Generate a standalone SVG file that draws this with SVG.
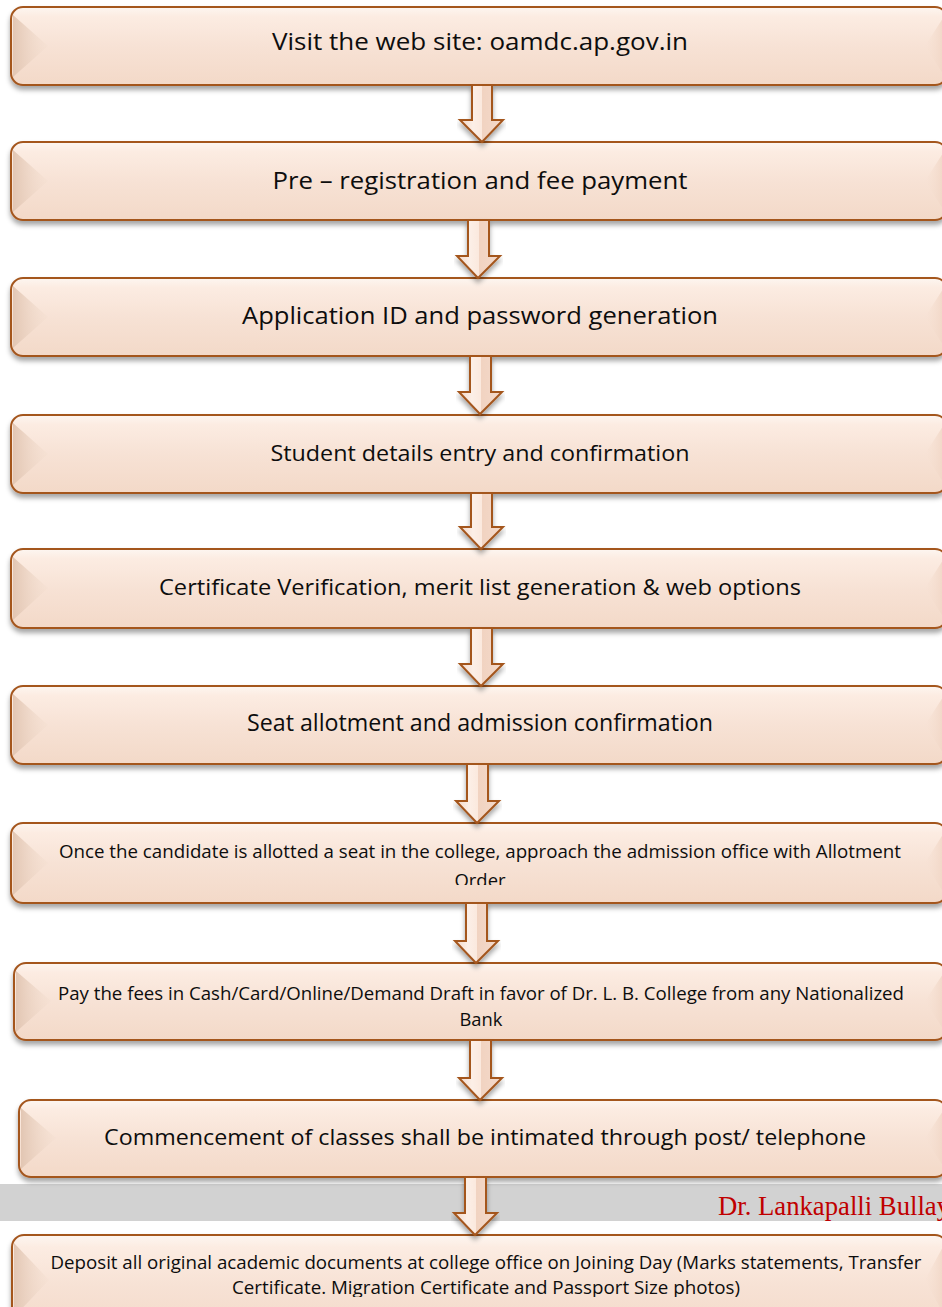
<svg xmlns="http://www.w3.org/2000/svg" width="942" height="1307" viewBox="0 0 942 1307">
  <defs>
    <linearGradient id="boxFill" x1="0" y1="0" x2="0" y2="1">
      <stop offset="0" stop-color="#fdf6f1"/>
      <stop offset="0.12" stop-color="#fcece2"/>
      <stop offset="0.5" stop-color="#f7e2d5"/>
      <stop offset="1" stop-color="#f3d9c8"/>
    </linearGradient>
    <linearGradient id="bevelL" x1="0" y1="0" x2="1" y2="0">
      <stop offset="0" stop-color="#e2c6b3"/>
      <stop offset="1" stop-color="#f1dccd" stop-opacity="0.2"/>
    </linearGradient>
    <linearGradient id="bevelR" x1="1" y1="0" x2="0" y2="0">
      <stop offset="0" stop-color="#f0d5c4"/>
      <stop offset="1" stop-color="#f7e2d5" stop-opacity="0.2"/>
    </linearGradient>
    <linearGradient id="arrowFill" x1="0" y1="0" x2="1" y2="0">
      <stop offset="0" stop-color="#f2d7c7"/>
      <stop offset="0.3" stop-color="#fcefe7"/>
      <stop offset="0.5" stop-color="#fbe9de"/>
      <stop offset="0.52" stop-color="#f1d3c1"/>
      <stop offset="1" stop-color="#f4dacb"/>
    </linearGradient>
    <filter id="shadow" x="-5%" y="-20%" width="110%" height="160%">
      <feDropShadow dx="0" dy="4" stdDeviation="2.5" flood-color="#000" flood-opacity="0.35"/>
    </filter>
    <clipPath id="clip7"><rect x="0" y="823" width="942" height="62"/></clipPath>
    <clipPath id="clip10"><rect x="0" y="1235" width="942" height="62"/></clipPath>
  </defs>
  <style>
    .box { fill: url(#boxFill); stroke: #a4561f; stroke-width: 2; }
    .bl { fill: url(#bevelL); }
    .br { fill: url(#bevelR); }
    .arrow { fill: url(#arrowFill); stroke: #a4561f; stroke-width: 2; stroke-linejoin: miter; filter: url(#shadow); }
    .t { font-family: "Open Sans", "Noto Sans", sans-serif; fill: #0d0d0d; text-anchor: middle; }
    .big { font-size: 23px; }
    .mid { font-size: 21px; }
    .small { font-size: 17.5px; }
    .footer { font-family: "Liberation Serif", "Times New Roman", serif; font-size: 27px; fill: #c00000; }
  </style>

  <!-- footer band -->
  <g id="footer-band">
    <rect x="0" y="1184" width="942" height="37" fill="#d2d2d2"/>
    <text class="footer" x="718" y="1215" textLength="232" lengthAdjust="spacingAndGlyphs">Dr. Lankapalli Bullay</text>
  </g>

  <!-- process steps -->
  <g id="step1" filter="url(#shadow)">
    <rect class="box" x="11" y="7" width="936" height="78" rx="12"/>
    <polygon class="bl" points="13,15 48,46 13,77"/>
    <polygon class="br" points="945,15 925,46 945,77"/>
  </g>
  <text class="t big" x="480" y="50" textLength="416" lengthAdjust="spacingAndGlyphs">Visit the web site: oamdc.ap.gov.in</text>

  <g id="step2" filter="url(#shadow)">
    <rect class="box" x="11" y="142" width="936" height="78" rx="12"/>
    <polygon class="bl" points="13,150 48,181 13,212"/>
    <polygon class="br" points="945,150 925,181 945,212"/>
  </g>
  <text class="t big" x="480" y="189" textLength="415" lengthAdjust="spacingAndGlyphs">Pre – registration and fee payment</text>

  <g id="step3" filter="url(#shadow)">
    <rect class="box" x="11" y="278" width="936" height="78" rx="12"/>
    <polygon class="bl" points="13,286 48,317 13,348"/>
    <polygon class="br" points="945,286 925,317 945,348"/>
  </g>
  <text class="t big" x="480" y="324" textLength="476" lengthAdjust="spacingAndGlyphs">Application ID and password generation</text>

  <g id="step4" filter="url(#shadow)">
    <rect class="box" x="11" y="415" width="936" height="78" rx="12"/>
    <polygon class="bl" points="13,423 48,454 13,485"/>
    <polygon class="br" points="945,423 925,454 945,485"/>
  </g>
  <text class="t mid" x="480" y="461" textLength="419" lengthAdjust="spacingAndGlyphs">Student details entry and confirmation</text>

  <g id="step5" filter="url(#shadow)">
    <rect class="box" x="11" y="549" width="936" height="79" rx="12"/>
    <polygon class="bl" points="13,557 48,588 13,620"/>
    <polygon class="br" points="945,557 925,588 945,620"/>
  </g>
  <text class="t mid" x="480" y="595" textLength="642" lengthAdjust="spacingAndGlyphs">Certificate Verification, merit list generation &amp; web options</text>

  <g id="step6" filter="url(#shadow)">
    <rect class="box" x="11" y="686" width="936" height="78" rx="12"/>
    <polygon class="bl" points="13,694 48,725 13,756"/>
    <polygon class="br" points="945,694 925,725 945,756"/>
  </g>
  <text class="t big" x="480" y="731" textLength="466" lengthAdjust="spacingAndGlyphs">Seat allotment and admission confirmation</text>

  <g id="step7" filter="url(#shadow)">
    <rect class="box" x="11" y="823" width="936" height="80" rx="12"/>
    <polygon class="bl" points="13,831 48,863 13,895"/>
    <polygon class="br" points="945,831 925,863 945,895"/>
  </g>
  <g clip-path="url(#clip7)">
    <text class="t small" x="480" y="858" textLength="842" lengthAdjust="spacingAndGlyphs">Once the candidate is allotted a seat in the college, approach the admission office with Allotment</text>
    <text class="t small" x="480" y="887" textLength="51" lengthAdjust="spacingAndGlyphs">Order</text>
  </g>

  <g id="step8" filter="url(#shadow)">
    <rect class="box" x="14" y="963" width="933" height="77" rx="12"/>
    <polygon class="bl" points="16,971 51,1001 16,1032"/>
    <polygon class="br" points="945,971 925,1001 945,1032"/>
  </g>
  <text class="t small" x="481" y="1000" textLength="846" lengthAdjust="spacingAndGlyphs">Pay the fees in Cash/Card/Online/Demand Draft in favor of Dr. L. B. College from any Nationalized</text>
  <text class="t small" x="481" y="1026" textLength="43" lengthAdjust="spacingAndGlyphs">Bank</text>

  <g id="step9" filter="url(#shadow)">
    <rect class="box" x="19" y="1100" width="928" height="77" rx="12"/>
    <polygon class="bl" points="21,1108 56,1138 21,1169"/>
    <polygon class="br" points="945,1108 925,1138 945,1169"/>
  </g>
  <text class="t mid" x="485" y="1145" textLength="762" lengthAdjust="spacingAndGlyphs">Commencement of classes shall be intimated through post/ telephone</text>

  <g id="step10" filter="url(#shadow)">
    <rect class="box" x="12" y="1235" width="935" height="100" rx="12"/>
    <polygon class="bl" points="14,1243 49,1280 14,1317"/>
    <polygon class="br" points="945,1243 925,1280 945,1317"/>
  </g>
  <g clip-path="url(#clip10)">
    <text class="t small" x="486" y="1269" textLength="871" lengthAdjust="spacingAndGlyphs">Deposit all original academic documents at college office on Joining Day (Marks statements, Transfer</text>
    <text class="t small" x="486" y="1294" textLength="508" lengthAdjust="spacingAndGlyphs">Certificate. Migration Certificate and Passport Size photos)</text>
  </g>

  <!-- block arrows between steps -->
  <g id="connectors">
    <path class="arrow" d="M472,85 H492 V120 H503 L482,142 L460,120 H472 Z"/>
    <path class="arrow" d="M468,220 H489 V256 H500 L478,278 L457,256 H468 Z"/>
    <path class="arrow" d="M470,356 H491 V392 H502 L480,414 L459,392 H470 Z"/>
    <path class="arrow" d="M471,493 H492 V527 H503 L481,549 L460,527 H471 Z"/>
    <path class="arrow" d="M471,628 H492 V664 H503 L481,686 L460,664 H471 Z"/>
    <path class="arrow" d="M467,764 H488 V801 H499 L477,823 L456,801 H467 Z"/>
    <path class="arrow" d="M466,903 H487 V941 H498 L476,963 L455,941 H466 Z"/>
    <path class="arrow" d="M470,1040 H491 V1078 H502 L480,1100 L459,1078 H470 Z"/>
    <path class="arrow" d="M465,1177 H486 V1213 H497 L475,1235 L454,1213 H465 Z"/>
  </g>
</svg>
